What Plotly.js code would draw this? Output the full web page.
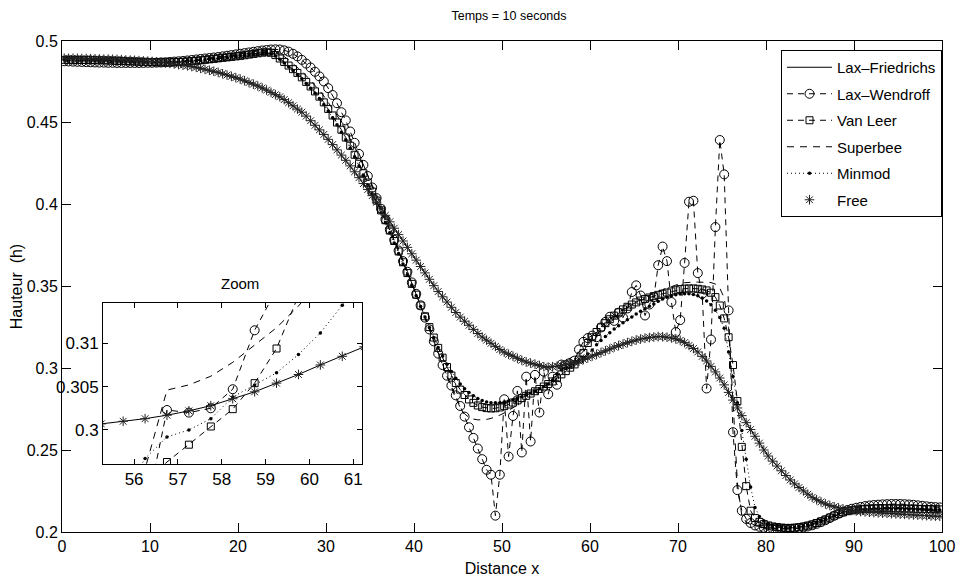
<!DOCTYPE html>
<html><head><meta charset="utf-8">
<script src="https://cdn.plot.ly/plotly-3.0.1.min.js"></script>
<style>html,body{margin:0;padding:0;background:#fff}#chart{width:956px;height:583px}</style>
</head><body><div id="chart"></div>
<script>
const xGrid = [
0.25,0.75,1.25,1.75,2.25,2.75,3.25,3.75,4.25,4.75,
5.25,5.75,6.25,6.75,7.25,7.75,8.25,8.75,9.25,9.75,
10.25,10.75,11.25,11.75,12.25,12.75,13.25,13.75,14.25,14.75,
15.25,15.75,16.25,16.75,17.25,17.75,18.25,18.75,19.25,19.75,
20.25,20.75,21.25,21.75,22.25,22.75,23.25,23.75,24.25,24.75,
25.25,25.75,26.25,26.75,27.25,27.75,28.25,28.75,29.25,29.75,
30.25,30.75,31.25,31.75,32.25,32.75,33.25,33.75,34.25,34.75,
35.25,35.75,36.25,36.75,37.25,37.75,38.25,38.75,39.25,39.75,
40.25,40.75,41.25,41.75,42.25,42.75,43.25,43.75,44.25,44.75,
45.25,45.75,46.25,46.75,47.25,47.75,48.25,48.75,49.25,49.75,
50.25,50.75,51.25,51.75,52.25,52.75,53.25,53.75,54.25,54.75,
55.25,55.75,56.25,56.75,57.25,57.75,58.25,58.75,59.25,59.75,
60.25,60.75,61.25,61.75,62.25,62.75,63.25,63.75,64.25,64.75,
65.25,65.75,66.25,66.75,67.25,67.75,68.25,68.75,69.25,69.75,
70.25,70.75,71.25,71.75,72.25,72.75,73.25,73.75,74.25,74.75,
75.25,75.75,76.25,76.75,77.25,77.75,78.25,78.75,79.25,79.75,
80.25,80.75,81.25,81.75,82.25,82.75,83.25,83.75,84.25,84.75,
85.25,85.75,86.25,86.75,87.25,87.75,88.25,88.75,89.25,89.75,
90.25,90.75,91.25,91.75,92.25,92.75,93.25,93.75,94.25,94.75,
95.25,95.75,96.25,96.75,97.25,97.75,98.25,98.75,99.25,99.75];

const laxFriedrichs = [
0.4895,0.4894,0.4894,0.4894,0.4893,0.4893,0.4892,0.4891,0.4890,0.4889,
0.4889,0.4888,0.4887,0.4886,0.4884,0.4883,0.4882,0.4880,0.4878,0.4877,
0.4875,0.4872,0.4869,0.4866,0.4863,0.4860,0.4856,0.4852,0.4848,0.4844,
0.4839,0.4833,0.4827,0.4821,0.4815,0.4808,0.4800,0.4792,0.4784,0.4776,
0.4767,0.4757,0.4746,0.4736,0.4725,0.4713,0.4700,0.4686,0.4672,0.4659,
0.4642,0.4623,0.4604,0.4584,0.4565,0.4541,0.4513,0.4485,0.4457,0.4429,
0.4399,0.4367,0.4335,0.4303,0.4271,0.4237,0.4201,0.4165,0.4129,0.4093,
0.4055,0.4015,0.3975,0.3935,0.3895,0.3856,0.3817,0.3778,0.3739,0.3700,
0.3661,0.3622,0.3583,0.3544,0.3505,0.3469,0.3437,0.3405,0.3373,0.3341,
0.3313,0.3288,0.3263,0.3238,0.3213,0.3191,0.3172,0.3153,0.3134,0.3115,
0.3099,0.3086,0.3074,0.3061,0.3049,0.3039,0.3032,0.3025,0.3017,0.3010,
0.3007,0.3010,0.3013,0.3017,0.3022,0.3028,0.3036,0.3044,0.3054,0.3064,
0.3075,0.3085,0.3096,0.3107,0.3118,0.3130,0.3139,0.3148,0.3157,0.3165,
0.3173,0.3179,0.3184,0.3188,0.3191,0.3194,0.3193,0.3190,0.3186,0.3180,
0.3171,0.3157,0.3140,0.3121,0.3100,0.3073,0.3045,0.3012,0.2978,0.2941,
0.2899,0.2853,0.2806,0.2758,0.2711,0.2668,0.2626,0.2585,0.2543,0.2501,
0.2464,0.2433,0.2403,0.2374,0.2345,0.2318,0.2294,0.2272,0.2251,0.2231,
0.2212,0.2197,0.2184,0.2172,0.2162,0.2154,0.2147,0.2141,0.2136,0.2132,
0.2128,0.2125,0.2123,0.2121,0.2119,0.2117,0.2115,0.2114,0.2112,0.2111,
0.2109,0.2108,0.2106,0.2104,0.2103,0.2101,0.2100,0.2098,0.2097,0.2096];

const laxWendroff = [
0.4876,0.4875,0.4874,0.4873,0.4872,0.4871,0.4870,0.4869,0.4868,0.4868,
0.4867,0.4867,0.4866,0.4866,0.4866,0.4866,0.4866,0.4866,0.4866,0.4867,
0.4867,0.4868,0.4869,0.4870,0.4872,0.4874,0.4876,0.4878,0.4881,0.4884,
0.4887,0.4890,0.4893,0.4896,0.4899,0.4902,0.4906,0.4910,0.4914,0.4918,
0.4922,0.4926,0.4930,0.4934,0.4938,0.4942,0.4945,0.4948,0.4949,0.4948,
0.4943,0.4935,0.4922,0.4906,0.4885,0.4862,0.4838,0.4812,0.4784,0.4753,
0.4712,0.4670,0.4620,0.4565,0.4515,0.4447,0.4378,0.4310,0.4243,0.4175,
0.4105,0.4040,0.3975,0.3910,0.3848,0.3785,0.3720,0.3655,0.3590,0.3525,
0.3455,0.3385,0.3310,0.3238,0.3165,0.3090,0.3020,0.2955,0.2895,0.2835,
0.2770,0.2705,0.2640,0.2575,0.2510,0.2445,0.2380,0.2350,0.2100,0.2350,
0.2811,0.2461,0.2709,0.2862,0.2486,0.2949,0.2553,0.2960,0.2730,0.2980,
0.2842,0.2949,0.2900,0.3023,0.3020,0.3025,0.3047,0.3115,0.3162,0.3185,
0.3200,0.3190,0.3250,0.3284,0.3315,0.3290,0.3340,0.3310,0.3366,0.3466,
0.3507,0.3445,0.3323,0.3390,0.3435,0.3630,0.3744,0.3655,0.3405,0.3222,
0.3295,0.3644,0.4018,0.4024,0.3582,0.3455,0.2877,0.3176,0.3863,0.4395,
0.4185,0.3354,0.2610,0.2256,0.2130,0.2080,0.2055,0.2040,0.2032,0.2026,
0.2022,0.2020,0.2019,0.2018,0.2018,0.2019,0.2021,0.2024,0.2028,0.2034,
0.2041,0.2050,0.2060,0.2072,0.2085,0.2099,0.2112,0.2124,0.2134,0.2142,
0.2148,0.2153,0.2158,0.2162,0.2165,0.2167,0.2169,0.2170,0.2171,0.2171,
0.2171,0.2170,0.2168,0.2166,0.2163,0.2160,0.2157,0.2154,0.2152,0.2150];

const vanLeer = [
0.4885,0.4885,0.4885,0.4884,0.4884,0.4884,0.4883,0.4883,0.4882,0.4882,
0.4881,0.4880,0.4879,0.4878,0.4877,0.4876,0.4875,0.4874,0.4873,0.4872,
0.4871,0.4870,0.4870,0.4870,0.4870,0.4871,0.4872,0.4873,0.4875,0.4877,
0.4879,0.4882,0.4885,0.4888,0.4891,0.4894,0.4897,0.4900,0.4903,0.4906,
0.4909,0.4913,0.4917,0.4921,0.4925,0.4929,0.4931,0.4928,0.4914,0.4893,
0.4872,0.4850,0.4828,0.4805,0.4778,0.4750,0.4722,0.4692,0.4660,0.4625,
0.4585,0.4545,0.4502,0.4458,0.4410,0.4360,0.4305,0.4250,0.4192,0.4135,
0.4080,0.4025,0.3965,0.3905,0.3842,0.3778,0.3714,0.3648,0.3582,0.3516,
0.3450,0.3384,0.3318,0.3252,0.3188,0.3125,0.3065,0.3008,0.2956,0.2910,
0.2870,0.2837,0.2810,0.2789,0.2773,0.2763,0.2757,0.2755,0.2756,0.2761,
0.2769,0.2779,0.2791,0.2804,0.2818,0.2832,0.2846,0.2860,0.2874,0.2889,
0.2904,0.2920,0.2940,0.2963,0.2983,0.3004,0.3024,0.3054,0.3094,0.3155,
0.3190,0.3222,0.3250,0.3276,0.3300,0.3322,0.3342,0.3360,0.3376,0.3390,
0.3403,0.3414,0.3424,0.3433,0.3441,0.3449,0.3456,0.3463,0.3470,0.3477,
0.3484,0.3487,0.3488,0.3488,0.3486,0.3482,0.3476,0.3462,0.3435,0.3384,
0.3305,0.3190,0.3020,0.2800,0.2520,0.2280,0.2130,0.2085,0.2062,0.2048,
0.2040,0.2034,0.2030,0.2027,0.2025,0.2025,0.2026,0.2029,0.2033,0.2039,
0.2046,0.2055,0.2065,0.2076,0.2088,0.2100,0.2111,0.2120,0.2127,0.2132,
0.2136,0.2139,0.2141,0.2143,0.2144,0.2145,0.2145,0.2145,0.2145,0.2144,
0.2144,0.2143,0.2143,0.2142,0.2141,0.2141,0.2140,0.2139,0.2139,0.2138];

const superbee = [
0.4884,0.4884,0.4884,0.4883,0.4883,0.4883,0.4882,0.4882,0.4881,0.4881,
0.4880,0.4879,0.4878,0.4877,0.4876,0.4875,0.4874,0.4873,0.4872,0.4871,
0.4870,0.4870,0.4870,0.4870,0.4871,0.4872,0.4873,0.4875,0.4877,0.4879,
0.4882,0.4885,0.4888,0.4891,0.4894,0.4897,0.4900,0.4904,0.4908,0.4912,
0.4916,0.4920,0.4924,0.4928,0.4932,0.4936,0.4939,0.4940,0.4935,0.4922,
0.4905,0.4885,0.4863,0.4840,0.4815,0.4788,0.4760,0.4730,0.4698,0.4664,
0.4627,0.4588,0.4546,0.4501,0.4454,0.4405,0.4352,0.4297,0.4240,0.4181,
0.4121,0.4060,0.3997,0.3932,0.3866,0.3799,0.3731,0.3662,0.3592,0.3522,
0.3452,0.3382,0.3312,0.3243,0.3175,0.3100,0.3025,0.2950,0.2880,0.2815,
0.2762,0.2722,0.2700,0.2690,0.2685,0.2685,0.2688,0.2694,0.2703,0.2714,
0.2727,0.2742,0.2758,0.2775,0.2793,0.2812,0.2832,0.2853,0.2875,0.2898,
0.2921,0.2940,0.2955,0.3046,0.3052,0.3062,0.3078,0.3098,0.3118,0.3143,
0.3175,0.3206,0.3236,0.3264,0.3290,0.3313,0.3334,0.3354,0.3372,0.3389,
0.3405,0.3420,0.3434,0.3447,0.3459,0.3470,0.3480,0.3490,0.3500,0.3510,
0.3518,0.3523,0.3526,0.3527,0.3527,0.3527,0.3526,0.3524,0.3515,0.3490,
0.3430,0.3250,0.2800,0.2300,0.2100,0.2060,0.2045,0.2038,0.2033,0.2029,
0.2026,0.2024,0.2022,0.2021,0.2020,0.2020,0.2021,0.2023,0.2027,0.2033,
0.2040,0.2049,0.2059,0.2071,0.2084,0.2097,0.2109,0.2119,0.2127,0.2133,
0.2137,0.2140,0.2142,0.2144,0.2145,0.2146,0.2146,0.2146,0.2146,0.2145,
0.2145,0.2144,0.2144,0.2143,0.2142,0.2142,0.2141,0.2140,0.2140,0.2139];

const minmod = [
0.4886,0.4886,0.4885,0.4885,0.4885,0.4884,0.4884,0.4883,0.4883,0.4882,
0.4881,0.4880,0.4879,0.4878,0.4877,0.4876,0.4875,0.4874,0.4873,0.4872,
0.4871,0.4871,0.4870,0.4870,0.4871,0.4871,0.4872,0.4874,0.4875,0.4877,
0.4879,0.4881,0.4884,0.4887,0.4890,0.4893,0.4896,0.4899,0.4902,0.4905,
0.4908,0.4911,0.4914,0.4917,0.4920,0.4922,0.4923,0.4920,0.4908,0.4888,
0.4866,0.4843,0.4820,0.4796,0.4769,0.4741,0.4712,0.4681,0.4648,0.4612,
0.4572,0.4531,0.4488,0.4443,0.4395,0.4345,0.4291,0.4236,0.4179,0.4122,
0.4066,0.4010,0.3951,0.3891,0.3829,0.3766,0.3702,0.3638,0.3573,0.3508,
0.3443,0.3378,0.3313,0.3249,0.3187,0.3128,0.3075,0.3025,0.2980,0.2940,
0.2905,0.2876,0.2852,0.2832,0.2816,0.2803,0.2795,0.2790,0.2789,0.2790,
0.2794,0.2800,0.2808,0.2817,0.2827,0.2838,0.2850,0.2862,0.2875,0.2889,
0.2905,0.2925,0.2967,0.2992,0.3000,0.3013,0.3038,0.3052,0.3066,0.3087,
0.3112,0.3144,0.3170,0.3195,0.3218,0.3240,0.3260,0.3279,0.3297,0.3314,
0.3332,0.3349,0.3364,0.3379,0.3393,0.3410,0.3423,0.3434,0.3443,0.3450,
0.3454,0.3456,0.3455,0.3451,0.3443,0.3430,0.3412,0.3388,0.3355,0.3310,
0.3245,0.3100,0.2950,0.2790,0.2620,0.2445,0.2275,0.2150,0.2095,0.2068,
0.2052,0.2042,0.2036,0.2032,0.2030,0.2030,0.2031,0.2034,0.2038,0.2044,
0.2051,0.2060,0.2070,0.2081,0.2092,0.2103,0.2113,0.2121,0.2127,0.2131,
0.2134,0.2136,0.2138,0.2139,0.2140,0.2141,0.2141,0.2141,0.2141,0.2140,
0.2140,0.2139,0.2139,0.2138,0.2138,0.2137,0.2137,0.2136,0.2136,0.2135];

const free = [
0.4895,0.4894,0.4894,0.4894,0.4893,0.4893,0.4892,0.4891,0.4890,0.4889,
0.4889,0.4888,0.4887,0.4886,0.4884,0.4883,0.4882,0.4880,0.4878,0.4877,
0.4875,0.4872,0.4869,0.4866,0.4863,0.4860,0.4856,0.4852,0.4848,0.4844,
0.4839,0.4833,0.4827,0.4821,0.4815,0.4808,0.4800,0.4792,0.4784,0.4776,
0.4767,0.4757,0.4746,0.4736,0.4725,0.4713,0.4700,0.4686,0.4672,0.4659,
0.4642,0.4623,0.4604,0.4584,0.4565,0.4541,0.4513,0.4485,0.4457,0.4429,
0.4399,0.4367,0.4335,0.4303,0.4271,0.4237,0.4201,0.4165,0.4129,0.4093,
0.4055,0.4015,0.3975,0.3935,0.3895,0.3856,0.3817,0.3778,0.3739,0.3700,
0.3661,0.3622,0.3583,0.3544,0.3505,0.3469,0.3437,0.3405,0.3373,0.3341,
0.3313,0.3288,0.3263,0.3238,0.3213,0.3191,0.3172,0.3153,0.3134,0.3115,
0.3099,0.3086,0.3074,0.3061,0.3049,0.3039,0.3032,0.3025,0.3017,0.3010,
0.3007,0.3010,0.3013,0.3017,0.3022,0.3028,0.3036,0.3044,0.3054,0.3064,
0.3075,0.3085,0.3096,0.3107,0.3118,0.3130,0.3139,0.3148,0.3157,0.3165,
0.3173,0.3179,0.3184,0.3188,0.3191,0.3194,0.3193,0.3190,0.3186,0.3180,
0.3171,0.3157,0.3140,0.3121,0.3100,0.3073,0.3045,0.3012,0.2978,0.2941,
0.2899,0.2853,0.2806,0.2758,0.2711,0.2668,0.2626,0.2585,0.2543,0.2501,
0.2464,0.2433,0.2403,0.2374,0.2345,0.2318,0.2294,0.2272,0.2251,0.2231,
0.2212,0.2197,0.2184,0.2172,0.2162,0.2154,0.2147,0.2141,0.2136,0.2132,
0.2128,0.2125,0.2123,0.2121,0.2119,0.2117,0.2115,0.2114,0.2112,0.2111,
0.2109,0.2108,0.2106,0.2104,0.2103,0.2101,0.2100,0.2098,0.2097,0.2096];

const seriesNames = ['Lax\u2013Friedrichs','Lax\u2013Wendroff','Van Leer','Superbee','Minmod','Free'];
const xTickVals = [0,10,20,30,40,50,60,70,80,90,100];
const yTickVals = [0.2,0.25,0.3,0.35,0.4,0.45,0.5];
const yTickText = ['0.2','0.25','0.3','0.35','0.4','0.45','0.5'];
const zoomXTickVals = [56,57,58,59,60,61];
const zoomYTickVals = [0.3,0.305,0.31];
const zoomYTickText = ['0.3','0.305','0.31'];

const FONT = '"Liberation Sans",Arial,sans-serif';
const BLACK = '#000';
const styles = [
  {mode:'lines', line:{color:BLACK,width:1}},
  {mode:'lines+markers', line:{color:BLACK,width:1,dash:'6px,5px'}, marker:{symbol:'circle-open',size:9,color:BLACK,line:{color:BLACK,width:1}}},
  {mode:'lines+markers', line:{color:BLACK,width:1,dash:'6px,5px'}, marker:{symbol:'square-open',size:7,color:BLACK,line:{color:BLACK,width:1}}},
  {mode:'lines', line:{color:BLACK,width:1,dash:'7px,6px'}},
  {mode:'lines+markers', line:{color:BLACK,width:1,dash:'1px,3px'}, marker:{symbol:'circle',size:3.5,color:BLACK}},
  {mode:'markers', marker:{symbol:'asterisk-open',size:8,color:'#222',line:{color:'#222',width:1}}}
];
const ys = [laxFriedrichs, laxWendroff, vanLeer, superbee, minmod, free];
const traces = [];
ys.forEach((y,i)=>{
  traces.push(Object.assign({type:'scatter', x:xGrid, y:y, name:seriesNames[i], legendgroup:'g'+i, xaxis:'x', yaxis:'y', showlegend:true}, styles[i]));
});
ys.forEach((y,i)=>{
  traces.push(Object.assign({type:'scatter', x:xGrid, y:y, name:seriesNames[i], legendgroup:'g'+i, xaxis:'x2', yaxis:'y2', showlegend:false}, styles[i]));
});

const axBase = {ticks:'inside', ticklen:9, tickcolor:BLACK, mirror:'ticks', showline:true, linecolor:BLACK, linewidth:1, showgrid:false, zeroline:false, ticklabeloverflow:'allow', tickfont:{family:FONT,size:16,color:BLACK}};
const layout = {
  width:956, height:583,
  margin:{l:62,r:14,t:41,b:51},
  paper_bgcolor:'#fff', plot_bgcolor:'#fff',
  font:{family:FONT,size:16,color:BLACK},
  title:{text:'Temps = 10 seconds', font:{family:FONT,size:12.5,color:BLACK}, xref:'paper', x:(509-62)/880, xanchor:'center', yref:'container', y:1-16/583, yanchor:'middle'},
  xaxis:Object.assign({}, axBase, {domain:[0,1], range:[0,100], tickmode:'array', tickvals:xTickVals, anchor:'y', title:{text:'Distance x', font:{family:FONT,size:16,color:BLACK}, standoff:8}}),
  yaxis:Object.assign({}, axBase, {domain:[0,1], range:[0.2,0.5], tickmode:'array', tickvals:yTickVals, ticktext:yTickText, anchor:'x', title:{text:'Hauteur\u00a0 (h)', font:{family:FONT,size:16,color:BLACK}, standoff:0}}),
  xaxis2:Object.assign({}, axBase, {domain:[41/880, 300/880], range:[55.29,61.2], tickmode:'array', tickvals:zoomXTickVals, ticklen:5, anchor:'y2', tickfont:{family:FONT,size:17,color:BLACK}}),
  yaxis2:Object.assign({}, axBase, {domain:[68/491, 229/491], range:[0.29607,0.31465], tickmode:'array', tickvals:zoomYTickVals, ticktext:zoomYTickText, ticklen:5, anchor:'x2', tickfont:{family:FONT,size:17,color:BLACK}}),
  legend:{x:1, xanchor:'right', y:1-9/491, yanchor:'top', bgcolor:'#fff', bordercolor:BLACK, borderwidth:1, font:{family:FONT,size:15,color:BLACK}, itemwidth:45, tracegroupgap:4, traceorder:'grouped'},
  annotations:[{text:'Zoom', xref:'paper', yref:'paper', x:(240-62)/880, y:(532-283)/491, xanchor:'center', yanchor:'middle', showarrow:false, font:{family:FONT,size:15,color:BLACK}}],
  showlegend:true
};
Plotly.newPlot('chart', traces, layout, {staticPlot:true, displayModeBar:false});
</script>
</body></html>
